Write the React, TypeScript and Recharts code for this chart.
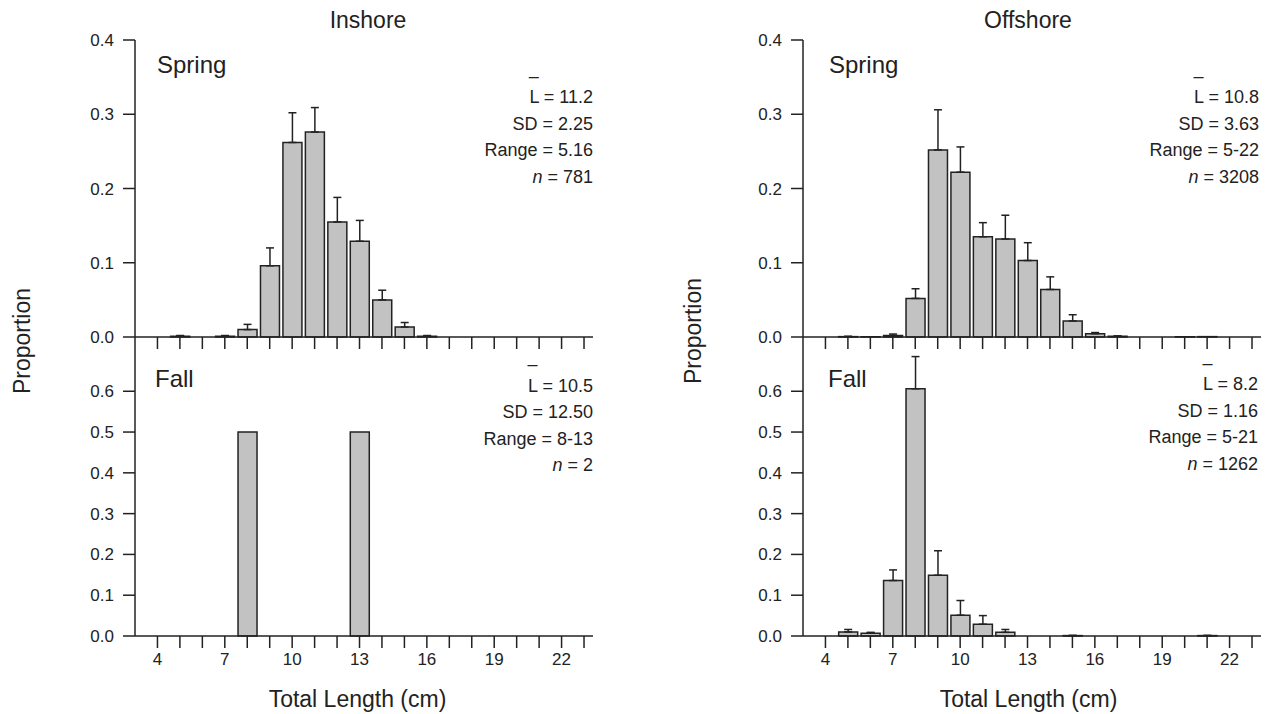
import React from "react";
import { BarChart, Bar, XAxis, YAxis, ErrorBar } from "recharts";

// ── data (proportion per 1-cm length class, 4..23 cm) ────────────────────────

const LENGTHS = [4, 5, 6, 7, 8, 9, 10, 11, 12, 13, 14, 15, 16, 17, 18, 19, 20, 21, 22, 23];
const X_LABELS = [4, 7, 10, 13, 16, 19, 22];
const SPRING_TICKS = [0, 0.1, 0.2, 0.3, 0.4];
const FALL_TICKS = [0, 0.1, 0.2, 0.3, 0.4, 0.5, 0.6];

const INSHORE_SPRING = [0, 0.001, 0, 0.001, 0.01, 0.096, 0.262, 0.276, 0.155, 0.129, 0.05, 0.0135, 0.001, 0, 0, 0, 0, 0, 0, 0];
const INSHORE_SPRING_SE = [null, 0.001, null, 0.001, 0.007, 0.024, 0.04, 0.033, 0.033, 0.028, 0.013, 0.006, 0.001, null, null, null, null, null, null, null];

const INSHORE_FALL = [0, 0, 0, 0, 0.5, 0, 0, 0, 0, 0.5, 0, 0, 0, 0, 0, 0, 0, 0, 0, 0];
const INSHORE_FALL_SE = LENGTHS.map(() => null);

const OFFSHORE_SPRING = [0, 0.0005, 0.0003, 0.002, 0.052, 0.252, 0.222, 0.135, 0.132, 0.103, 0.064, 0.0216, 0.0045, 0.001, 0, 0, 0.0005, 0.0005, 0, 0];
const OFFSHORE_SPRING_SE = [null, 0.0005, null, 0.002, 0.013, 0.054, 0.034, 0.019, 0.032, 0.024, 0.017, 0.0084, 0.0015, 0.0005, null, null, null, null, null, null];

const OFFSHORE_FALL = [0, 0.01, 0.007, 0.136, 0.606, 0.149, 0.051, 0.029, 0.009, 0, 0, 0.001, 0, 0, 0, 0, 0, 0.001, 0, 0];
const OFFSHORE_FALL_SE = [null, 0.006, 0.002, 0.026, 0.079, 0.06, 0.036, 0.021, 0.007, null, null, 0.0005, null, null, null, null, null, 0.0005, null, null];

const INSHORE_SPRING_STATS = ["11.2", "2.25", "5.16", "781"];
const INSHORE_FALL_STATS = ["10.5", "12.50", "8-13", "2"];
const OFFSHORE_SPRING_STATS = ["10.8", "3.63", "5-22", "3208"];
const OFFSHORE_FALL_STATS = ["8.2", "1.16", "5-21", "1262"];

// ── styling ──────────────────────────────────────────────────────────────────

const FONT = "'Liberation Sans', Arial, Helvetica, sans-serif";
const INK = "#222";
const BAR_FILL = "#c2c2c2";
const AXIS = { stroke: INK, strokeWidth: 1.5 };

interface PanelProps {
  values: number[];
  se: (number | null)[];
  left: number;
  top: number;
  width: number;
  height: number;
  margin: { top: number; right: number; bottom: number; left: number };
  yMax: number;
  yTicks: number[];
  showLabels: boolean;
}

function Panel({ values, se, left, top, width, height, margin, yMax, yTicks, showLabels }: PanelProps) {
  const data = LENGTHS.map((len, i) => ({
    len,
    p: values[i],
    se: se[i] == null ? null : [0, se[i]],
  }));
  return (
    <div style={{ position: "absolute", left, top }}>
      <BarChart width={width} height={height} data={data} margin={margin}>
        <XAxis
          dataKey="len"
          type="number"
          domain={[3, 23.4]}
          ticks={LENGTHS}
          interval={0}
          height={30}
          tickSize={12}
          tickMargin={5}
          axisLine={AXIS}
          tickLine={AXIS}
          tick={{ fill: INK, fontSize: 17, fontFamily: FONT }}
          tickFormatter={(v: number) => (showLabels && X_LABELS.includes(v) ? String(v) : "")}
        />
        <YAxis
          type="number"
          domain={[0, yMax]}
          ticks={yTicks}
          interval={0}
          width={60}
          tickSize={12}
          tickMargin={9}
          axisLine={AXIS}
          tickLine={AXIS}
          tick={{ fill: INK, fontSize: 17, fontFamily: FONT }}
          tickFormatter={(v: number) => v.toFixed(1)}
        />
        <Bar dataKey="p" fill={BAR_FILL} stroke={INK} strokeWidth={1.5} barSize={19} isAnimationActive={false}>
          <ErrorBar dataKey="se" direction="y" width={4} stroke={INK} strokeWidth={1.5} />
        </Bar>
      </BarChart>
    </div>
  );
}

function Stats({ right, base, stats }: { right: number; base: number; stats: string[] }) {
  const gap = 26.5;
  return (
    <g fontSize={18} fill={INK} textAnchor="end" style={{ whiteSpace: "pre" }}>
      <text x={right} y={base - 21.5}>
        <tspan>–</tspan>
        <tspan fillOpacity={0}>{` = ${stats[0]}`}</tspan>
      </text>
      <text x={right} y={base}>{`L = ${stats[0]}`}</text>
      <text x={right} y={base + gap}>{`SD = ${stats[1]}`}</text>
      <text x={right} y={base + gap * 2}>{`Range = ${stats[2]}`}</text>
      <text x={right} y={base + gap * 3}>
        <tspan fontStyle="italic">n</tspan>
        <tspan>{` = ${stats[3]}`}</tspan>
      </text>
    </g>
  );
}

const TOP_MARGIN = { top: 40, right: 47, bottom: 13, left: 75 };
const BOTTOM_MARGIN = { top: 17, right: 47, bottom: 14, left: 75 };
const TOP_MARGIN_R = { top: 40, right: 7, bottom: 13, left: 75 };
const BOTTOM_MARGIN_R = { top: 17, right: 7, bottom: 14, left: 75 };

export default function App() {
  return (
    <div
      style={{
        position: "absolute",
        left: 0,
        top: 0,
        width: 1270,
        height: 714,
        overflow: "hidden",
        background: "#fff",
        fontFamily: FONT,
      }}
    >
      <Panel values={INSHORE_SPRING} se={INSHORE_SPRING_SE} left={0} top={0} width={640} height={380}
        margin={TOP_MARGIN} yMax={0.4} yTicks={SPRING_TICKS} showLabels={false} />
      <Panel values={INSHORE_FALL} se={INSHORE_FALL_SE} left={0} top={320} width={640} height={360}
        margin={BOTTOM_MARGIN} yMax={0.733} yTicks={FALL_TICKS} showLabels={true} />
      <Panel values={OFFSHORE_SPRING} se={OFFSHORE_SPRING_SE} left={668} top={0} width={600} height={380}
        margin={TOP_MARGIN_R} yMax={0.4} yTicks={SPRING_TICKS} showLabels={false} />
      <Panel values={OFFSHORE_FALL} se={OFFSHORE_FALL_SE} left={668} top={320} width={600} height={360}
        margin={BOTTOM_MARGIN_R} yMax={0.733} yTicks={FALL_TICKS} showLabels={true} />

      <svg width={1270} height={714} style={{ position: "absolute", left: 0, top: 0, pointerEvents: "none" }}
        fontFamily={FONT}>
        <text x={368} y={28} fontSize={23} fill={INK} textAnchor="middle">Inshore</text>
        <text x={1028} y={28} fontSize={23} fill={INK} textAnchor="middle">Offshore</text>

        <text x={157} y={72.7} fontSize={24} fill={INK}>Spring</text>
        <text x={155} y={387.3} fontSize={24} fill={INK}>Fall</text>
        <text x={829} y={72.7} fontSize={24} fill={INK}>Spring</text>
        <text x={828} y={387} fontSize={24} fill={INK}>Fall</text>

        <Stats right={593} base={103.3} stats={INSHORE_SPRING_STATS} />
        <Stats right={593} base={391.7} stats={INSHORE_FALL_STATS} />
        <Stats right={1259} base={103.3} stats={OFFSHORE_SPRING_STATS} />
        <Stats right={1258} base={390} stats={OFFSHORE_FALL_STATS} />

        <text transform="translate(30,341) rotate(-90)" fontSize={23} fill={INK} textAnchor="middle">Proportion</text>
        <text transform="translate(701,331) rotate(-90)" fontSize={23} fill={INK} textAnchor="middle">Proportion</text>

        <text x={357.5} y={707} fontSize={23} fill={INK} textAnchor="middle">Total Length (cm)</text>
        <text x={1028.5} y={707} fontSize={23} fill={INK} textAnchor="middle">Total Length (cm)</text>
      </svg>
    </div>
  );
}
